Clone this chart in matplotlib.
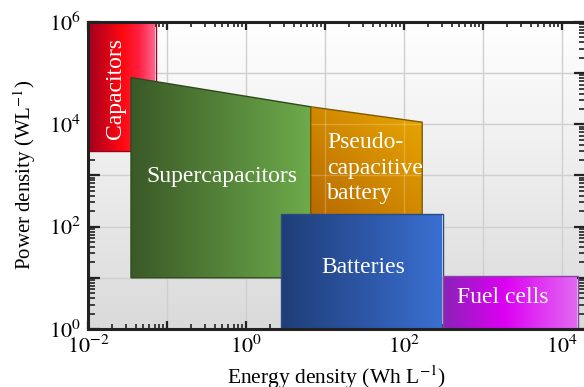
import numpy as np
import matplotlib
matplotlib.use("Agg")
import matplotlib.pyplot as plt
from matplotlib.patches import Polygon
from matplotlib.colors import LinearSegmentedColormap
from matplotlib.ticker import LogLocator, FuncFormatter, NullFormatter

plt.rcParams['font.family'] = 'serif'
plt.rcParams['font.serif'] = ['Liberation Serif', 'DejaVu Serif']
plt.rcParams['mathtext.fontset'] = 'stix'

# Ragone regions: energy density (Wh/L) vs power density (W/L)
capacitor_energy = [0.01, 0.072]
capacitor_power = [3000, 1e6]

supercap_energy = [0.035, 6.6]
supercap_power_top = [8.2e4, 2.2e4]
supercap_power_bottom = 10

pseudo_energy = [6.6, 170]
pseudo_power_top = [2.2e4, 1.1e4]
pseudo_power_bottom = 150

battery_energy = [2.8, 314]
battery_power = [1, 178]

fuelcell_energy = [314, 15800]
fuelcell_power = [1, 11]

x_limits = [1e-2, 10 ** 4.3]
y_limits = [1, 1e6]

fig = plt.figure(figsize=(5.84, 3.87), dpi=100)
ax = fig.add_axes([0.1507, 0.1499, 0.8522, 0.7933])
ax.set_xscale('log')
ax.set_yscale('log')
ax.set_xlim(*x_limits)
ax.set_ylim(*y_limits)

# soft vertical background gradient
bg = np.linspace(0.855, 1.0, 256).reshape(-1, 1)
bg_rgb = np.dstack([bg, bg, bg])
ax.imshow(bg_rgb, extent=(0, 1, 0, 1), transform=ax.transAxes,
          aspect='auto', origin='lower', zorder=0, interpolation='bilinear')

ax.grid(True, which='major', color='#cfcfcf', linewidth=1.0, zorder=1)
ax.set_axisbelow(True)


def log_fraction(lo, hi, n):
    # pixel centres are spaced linearly in data units; map them to log position
    vals = np.linspace(lo, hi, n)
    return (np.log10(vals) - np.log10(lo)) / (np.log10(hi) - np.log10(lo))


def gradient_region(verts, stops, edge, z, direction='h', alpha=1.0):
    poly = Polygon(verts, closed=True, facecolor='none', edgecolor=edge,
                   linewidth=1.0, zorder=z + 0.5)
    ax.add_patch(poly)
    xs = [v[0] for v in verts]
    ys = [v[1] for v in verts]
    n = 1200
    u = log_fraction(min(xs), max(xs), n)
    v = log_fraction(min(ys), max(ys), n)
    if direction == 'h':
        t = np.tile(u, (n, 1))
    else:
        t = (u[None, :] + v[:, None]) / 2.0
    cmap = LinearSegmentedColormap.from_list('g', stops)
    img = ax.imshow(t, cmap=cmap, extent=(min(xs), max(xs), min(ys), max(ys)),
                    aspect='auto', origin='lower', zorder=z,
                    interpolation='bilinear', alpha=alpha)
    fill_clip = Polygon(verts, closed=True, transform=ax.transData)
    img.set_clip_path(fill_clip)
    return fill_clip


# Capacitors
cap_verts = [(capacitor_energy[0], capacitor_power[0]),
             (capacitor_energy[1], capacitor_power[0]),
             (capacitor_energy[1], capacitor_power[1]),
             (capacitor_energy[0], capacitor_power[1])]
gradient_region(cap_verts, [(0, '#a3001f'), (0.5, '#ff0810'), (0.75, '#ff2040'),
                            (1, '#ff6a95')], '#9a0020', 2)

# Supercapacitors
sc_verts = [(supercap_energy[0], supercap_power_bottom),
            (supercap_energy[1], supercap_power_bottom),
            (supercap_energy[1], supercap_power_top[1]),
            (supercap_energy[0], supercap_power_top[0])]
gradient_region(sc_verts, [(0, '#3b5a27'), (1, '#6dab4b')], '#2c4a1c', 3)

# Pseudo-capacitive battery
pc_verts = [(pseudo_energy[0], pseudo_power_bottom),
            (pseudo_energy[1], pseudo_power_bottom),
            (pseudo_energy[1], pseudo_power_top[1]),
            (pseudo_energy[0], pseudo_power_top[0])]
pc_clip = gradient_region(pc_verts, [(0, '#b86a00'), (1, '#eaa800')],
                          '#7d5a00', 4, direction='d')
# faint grid visible through the pseudo-capacitive region
for xv in [10, 100]:
    ln = ax.axvline(xv, color='white', alpha=0.22, linewidth=1.0, zorder=4.2)
    ln.set_clip_path(pc_clip)
for yv in [1e3, 1e4]:
    ln = ax.axhline(yv, color='white', alpha=0.22, linewidth=1.0, zorder=4.2)
    ln.set_clip_path(pc_clip)

# Batteries
bat_verts = [(battery_energy[0], battery_power[0]),
             (battery_energy[1], battery_power[0]),
             (battery_energy[1], battery_power[1]),
             (battery_energy[0], battery_power[1])]
gradient_region(bat_verts, [(0, '#1f3e78'), (1, '#3a6fd2')], '#2a4a86', 5)

# Fuel cells
fc_verts = [(fuelcell_energy[0], fuelcell_power[0]),
            (fuelcell_energy[1], fuelcell_power[0]),
            (fuelcell_energy[1], fuelcell_power[1]),
            (fuelcell_energy[0], fuelcell_power[1])]
gradient_region(fc_verts, [(0, '#8b22b8'), (0.45, '#dc00f2'), (1, '#e36af2')],
                '#8a44a8', 6)

txt = dict(color='white', fontsize=17, zorder=10)
ax.text(0.022, 5.1e4, 'Capacitors', rotation=90, ha='center', va='center', **txt)
ax.text(0.50, 940, 'Supercapacitors', ha='center', va='center', **txt)
ax.text(10.6, 1400, 'Pseudo-\ncapacitive\nbattery', ha='left', va='center',
        linespacing=1.3, **txt)
ax.text(30.3, 15.7, 'Batteries', ha='center', va='center', **txt)
ax.text(1790, 4.06, 'Fuel cells', ha='center', va='center', **txt)


def even_power(val, pos):
    e = int(round(np.log10(val)))
    return r'$10^{%d}$' % e if e % 2 == 0 else ''


for axis in (ax.xaxis, ax.yaxis):
    axis.set_major_locator(LogLocator(base=10, numticks=20))
    axis.set_minor_locator(LogLocator(base=10, subs=np.arange(2, 10), numticks=20))
    axis.set_major_formatter(FuncFormatter(even_power))
    axis.set_minor_formatter(NullFormatter())

ax.tick_params(which='both', direction='in', top=True, right=True,
               color='#222222', labelsize=16, zorder=12)
ax.tick_params(axis='y', which='major', length=8.5, width=1.6, pad=5)
ax.tick_params(axis='y', which='minor', length=5, width=1.2)
ax.tick_params(axis='x', which='major', length=6, width=1.6, pad=5)
ax.tick_params(axis='x', which='minor', length=3.5, width=1.2)

for sp in ax.spines.values():
    sp.set_linewidth(2.2)
    sp.set_color('#222222')
    sp.set_zorder(12)

ax.set_xlabel(r'Energy density (Wh L$^{-1}$)', fontsize=15.5, labelpad=4)
ax.set_ylabel(r'Power density (WL$^{-1}$)', fontsize=15, labelpad=8)

fig.savefig('out.png', dpi=100)
